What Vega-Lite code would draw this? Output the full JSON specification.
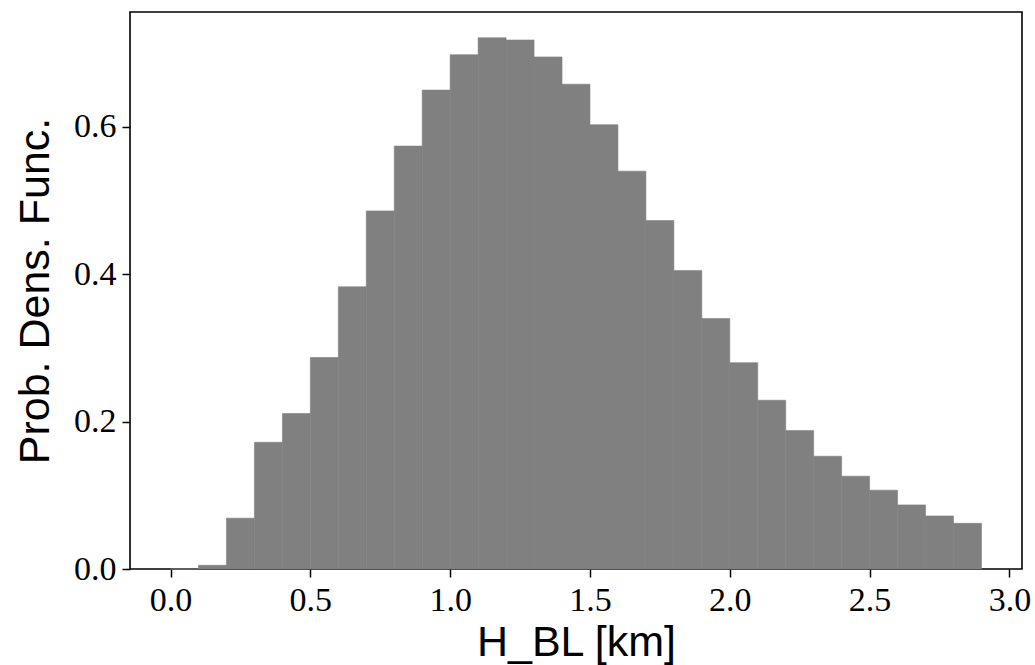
{
  "$schema": "https://vega.github.io/schema/vega-lite/v6.json",
  "width": 892,
  "height": 557,
  "autosize": "none",
  "padding": {"left": 130, "top": 12, "right": 13, "bottom": 96},
  "background": "white",
  "data": {
    "values": [
      {"start": 0.0, "end": 0.1, "density": 0.0},
      {"start": 0.1, "end": 0.2, "density": 0.005},
      {"start": 0.2, "end": 0.3, "density": 0.069},
      {"start": 0.3, "end": 0.4, "density": 0.172},
      {"start": 0.4, "end": 0.5, "density": 0.211},
      {"start": 0.5, "end": 0.6, "density": 0.287},
      {"start": 0.6, "end": 0.7, "density": 0.383},
      {"start": 0.7, "end": 0.8, "density": 0.486},
      {"start": 0.8, "end": 0.9, "density": 0.574},
      {"start": 0.9, "end": 1.0, "density": 0.650},
      {"start": 1.0, "end": 1.1, "density": 0.698},
      {"start": 1.1, "end": 1.2, "density": 0.721},
      {"start": 1.2, "end": 1.3, "density": 0.718},
      {"start": 1.3, "end": 1.4, "density": 0.695},
      {"start": 1.4, "end": 1.5, "density": 0.658},
      {"start": 1.5, "end": 1.6, "density": 0.603},
      {"start": 1.6, "end": 1.7, "density": 0.540},
      {"start": 1.7, "end": 1.8, "density": 0.473},
      {"start": 1.8, "end": 1.9, "density": 0.405},
      {"start": 1.9, "end": 2.0, "density": 0.340},
      {"start": 2.0, "end": 2.1, "density": 0.280},
      {"start": 2.1, "end": 2.2, "density": 0.229},
      {"start": 2.2, "end": 2.3, "density": 0.188},
      {"start": 2.3, "end": 2.4, "density": 0.153},
      {"start": 2.4, "end": 2.5, "density": 0.126},
      {"start": 2.5, "end": 2.6, "density": 0.107},
      {"start": 2.6, "end": 2.7, "density": 0.087},
      {"start": 2.7, "end": 2.8, "density": 0.072},
      {"start": 2.8, "end": 2.9, "density": 0.062}
    ]
  },
  "mark": {"type": "rect", "fill": "#808080", "stroke": "#808080", "strokeWidth": 0.6},
  "encoding": {
    "x": {
      "field": "start",
      "type": "quantitative",
      "scale": {"domain": [-0.145, 3.045], "nice": false, "zero": false},
      "axis": {
        "values": [0, 0.5, 1.0, 1.5, 2.0, 2.5, 3.0],
        "format": ".1f",
        "title": "H_BL [km]",
        "titlePadding": 4
      }
    },
    "x2": {"field": "end"},
    "y": {
      "field": "density",
      "type": "quantitative",
      "scale": {"domain": [0, 0.756], "nice": false},
      "axis": {
        "values": [0, 0.2, 0.4, 0.6],
        "format": ".1f",
        "title": "Prob. Dens. Func.",
        "titlePadding": 16
      }
    },
    "y2": {"datum": 0}
  },
  "config": {
    "view": {"stroke": "black", "strokeWidth": 1.6},
    "axis": {
      "grid": false,
      "domain": false,
      "tickColor": "black",
      "tickSize": 8,
      "tickWidth": 1.5,
      "labelFont": "Liberation Serif",
      "labelFontSize": 34,
      "labelColor": "black",
      "labelPadding": 6,
      "titleFont": "Liberation Sans",
      "titleFontSize": 43,
      "titleFontWeight": "normal",
      "titleColor": "black"
    }
  }
}
